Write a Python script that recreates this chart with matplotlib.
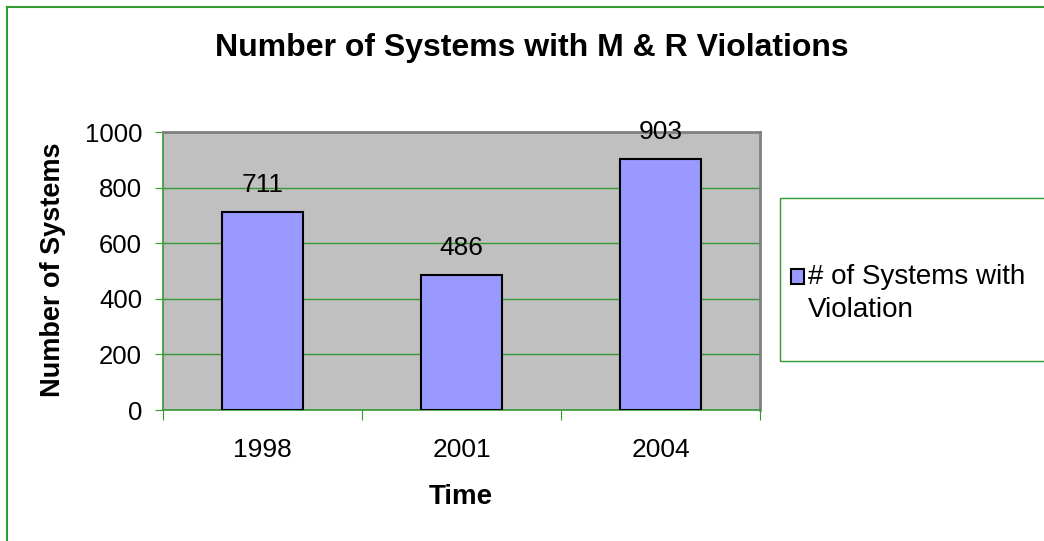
import matplotlib
matplotlib.use("Agg")
import matplotlib.pyplot as plt
from matplotlib.patches import Rectangle
from matplotlib.lines import Line2D

years = ["1998", "2001", "2004"]
systems = [711, 486, 903]
series_name = "# of Systems with\nViolation"
y_ticks = [0, 200, 400, 600, 800, 1000]

plt.rcParams['font.family'] = ['Liberation Sans', 'DejaVu Sans']

GREEN = "#339933"
BAR = "#9999FF"
W, H = 1044, 541
fig = plt.figure(figsize=(W / 100, H / 100), dpi=100)

# outer chart border (left and top only visible)
fig.add_artist(Line2D([7 / W, 7 / W], [0, 1 - 7 / H], color=GREEN, lw=1.5, transform=fig.transFigure))
fig.add_artist(Line2D([7 / W, 1], [1 - 7 / H, 1 - 7 / H], color=GREEN, lw=1.5, transform=fig.transFigure))

ax = fig.add_axes([163 / W, 1 - 410 / H, (760 - 163) / W, (410 - 132) / H])
ax.set_facecolor("#C0C0C0")
x = list(range(len(years)))
bars = ax.bar(x, systems, width=0.41, color=BAR, edgecolor="black", linewidth=1.5,
              label=series_name, zorder=3)
ax.set_xlim(-0.5, len(years) - 0.5)
ax.set_ylim(0, 1000)
ax.set_yticks(y_ticks)
ax.set_yticklabels([str(v) for v in y_ticks])
ax.yaxis.grid(True, color=GREEN, lw=1, zorder=1)
ax.set_axisbelow(True)

# categories: labels centered, ticks at boundaries
ax.set_xticks([i - 0.5 for i in range(len(years) + 1)])
ax.set_xticklabels([])
ax.set_xticks(x, minor=True)
ax.set_xticklabels(years, minor=True)
ax.tick_params(axis="x", which="minor", length=0, pad=20, labelsize=19)
ax.tick_params(axis="x", which="major", length=7, color=GREEN, direction="out")
ax.tick_params(axis="y", length=6, color=GREEN, direction="out", pad=9, labelsize=18.5)

for side in ["left", "bottom"]:
    ax.spines[side].set_color(GREEN)
    ax.spines[side].set_linewidth(1.2)
for side in ["top", "right"]:
    ax.spines[side].set_color("#808080")
    ax.spines[side].set_linewidth(2)

for b, v in zip(bars, systems):
    ax.annotate(str(v), (b.get_x() + b.get_width() / 2, v), xytext=(0, 11),
                textcoords="offset points", ha="center", va="bottom", fontsize=19,
                annotation_clip=False, zorder=4)

ax.set_ylabel("Number of Systems", fontsize=19.5, fontweight="bold", va="center")
ax.yaxis.set_label_coords(53 / W, 1 - 270 / H, transform=fig.transFigure)
ax.set_xlabel("Time", fontsize=20, fontweight="bold", va="center")
ax.xaxis.set_label_coords(461 / W, 1 - 497 / H, transform=fig.transFigure)

fig.text(532 / W, 1 - 48 / H, "Number of Systems with M & R Violations",
         ha="center", va="center", fontsize=23, fontweight="bold")

# legend box with its key and label
fig.add_artist(Rectangle((780 / W, 1 - 361 / H), (W + 10 - 780) / W, (361 - 198) / H,
                         transform=fig.transFigure, fill=False, edgecolor=GREEN, lw=1))
fig.add_artist(Rectangle((791 / W, 1 - 284 / H), 13 / W, 15 / H,
                         transform=fig.transFigure, facecolor=BAR, edgecolor="black", lw=1.5))
fig.text(808 / W, 1 - 264 / H, series_name, ha="left", va="top", fontsize=20,
         linespacing=1.37)

fig.savefig("out.png", dpi=100)
